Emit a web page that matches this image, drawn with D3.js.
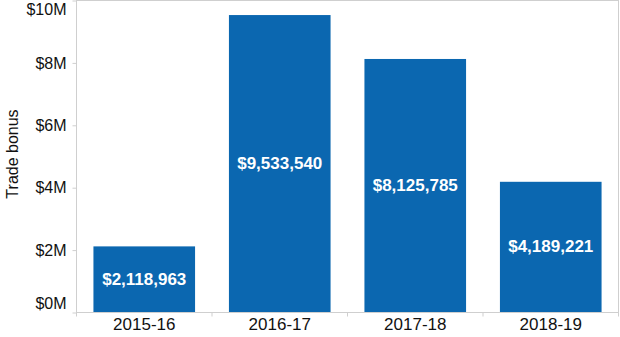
<!DOCTYPE html>
<html>
<head>
<meta charset="utf-8">
<script src="https://cdn.jsdelivr.net/npm/d3@7"></script>
<style>
  html, body { margin: 0; padding: 0; background: #fff; }
  svg { display: block; font-family: Arial, "Liberation Sans", sans-serif; }
</style>
</head>
<body>
<svg id="chart" width="620" height="337"></svg>
<script>
// Trade bonus by financial year
const years = ["2015-16", "2016-17", "2017-18", "2018-19"];
const bonus = [2118963, 9533540, 8125785, 4189221];
const yTicks = [0, 2e6, 4e6, 6e6, 8e6, 10e6];
const yTickLabels = ["$0M", "$2M", "$4M", "$6M", "$8M", "$10M"];

const W = 620, H = 337;
const m = { top: 0.5, right: 1.5, bottom: 24.5, left: 76.5 };
const svg = d3.select("#chart");
const innerW = W - m.left - m.right;
const innerH = H - m.top - m.bottom;

const x = d3.scaleBand().domain(years).range([0, innerW]).paddingInner(0.25).paddingOuter(0.125);
const y = d3.scaleLinear().domain([0, 10e6]).range([innerH, 0]);

const g = svg.append("g").attr("transform", `translate(${m.left},${m.top})`);

// bars
g.selectAll("rect.bar").data(years).join("rect")
  .attr("class", "bar")
  .attr("x", d => x(d))
  .attr("width", x.bandwidth())
  .attr("y", (d, i) => y(bonus[i]))
  .attr("height", (d, i) => innerH - y(bonus[i]))
  .attr("fill", "#0b67b0");

// frame
g.append("rect").attr("x", 0).attr("y", 0).attr("width", innerW).attr("height", innerH)
  .attr("fill", "none").attr("stroke", "#cfcfcf").attr("stroke-width", 1);

// y axis
const yAxis = g.append("g").call(
  d3.axisLeft(y).tickValues(yTicks).tickSize(4).tickPadding(6)
    .tickFormat((d, i) => yTickLabels[i])
);
yAxis.select(".domain").remove();
yAxis.selectAll(".tick line").attr("stroke", "#cfcfcf");
yAxis.selectAll(".tick text")
  .attr("fill", "#111").style("font-size", "16px")
  .attr("dy", d => d === 10e6 ? "0.9em" : d === 0 ? "-0.25em" : "0.32em");

// x axis: ticks at band boundaries
const xAxis = g.append("g").attr("transform", `translate(0,${innerH})`)
  .call(d3.axisBottom(x).tickSize(0).tickPadding(5));
xAxis.select(".domain").remove();
xAxis.selectAll(".tick text").attr("fill", "#111").style("font-size", "17px");
const bounds = d3.range(years.length + 1).map(i => i * innerW / years.length);
g.append("g").selectAll("line").data(bounds).join("line")
  .attr("x1", d => d).attr("x2", d => d)
  .attr("y1", innerH).attr("y2", innerH + 4)
  .attr("stroke", "#cfcfcf");

// value labels
g.selectAll("text.val").data(years).join("text")
  .attr("class", "val")
  .attr("x", d => x(d) + x.bandwidth() / 2)
  .attr("y", (d, i) => (y(bonus[i]) + innerH) / 2)
  .attr("dy", "0.3em")
  .attr("text-anchor", "middle")
  .attr("fill", "#fff")
  .style("font-size", "17px").style("font-weight", "bold")
  .text((d, i) => "$" + d3.format(",")(bonus[i]));

// axis title
svg.append("text")
  .attr("transform", `translate(18,${154}) rotate(-90)`)
  .attr("text-anchor", "middle")
  .attr("fill", "#111")
  .style("font-size", "16px")
  .text("Trade bonus");
</script>
</body>
</html>
